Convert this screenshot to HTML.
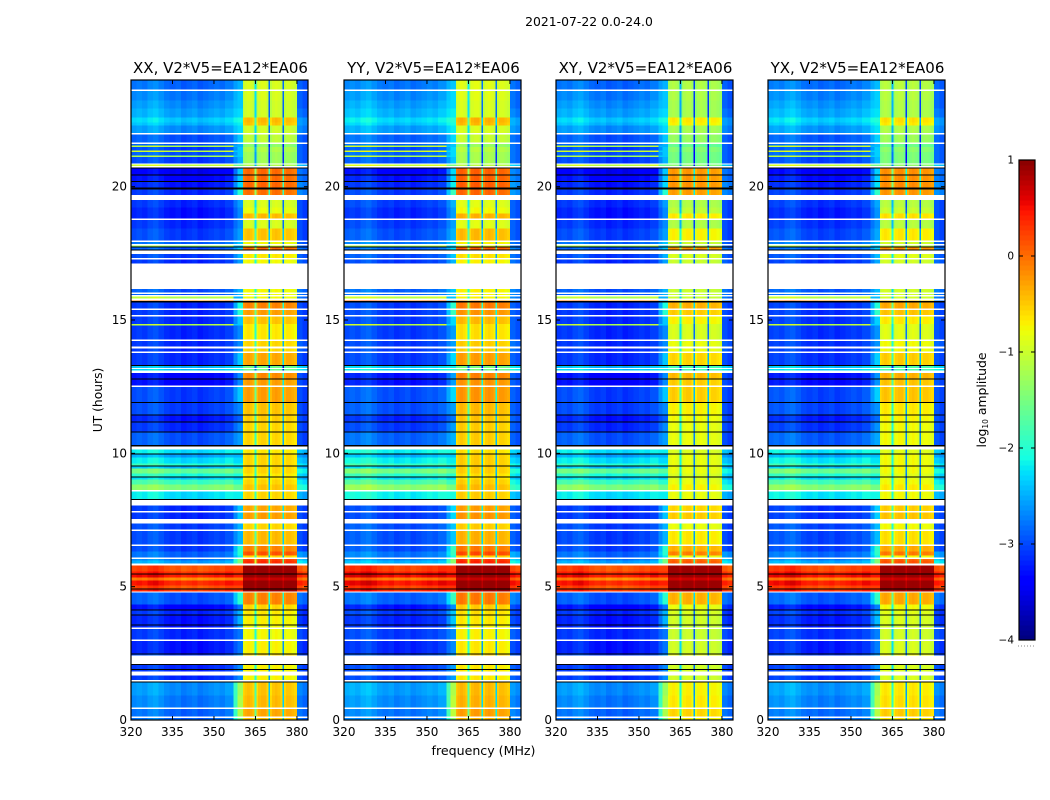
<!DOCTYPE html>
<html lang="en">
<head>
<meta charset="utf-8">
<title>2021-07-22 0.0-24.0</title>
<style>
html,body{margin:0;padding:0;background:#fff;width:1050px;height:800px;overflow:hidden}
svg{display:block}
text{font-family:"DejaVu Sans","Liberation Sans",sans-serif;fill:#000}
</style>
</head>
<body>
<svg id="figure" xmlns="http://www.w3.org/2000/svg" width="1050" height="800" viewBox="0 0 1050 800">
  <rect x="0" y="0" width="1050" height="800" fill="#fff"/>
  <text x="589" y="26" font-size="12.4" text-anchor="middle">2021-07-22 0.0-24.0</text>
  <text transform="translate(102 400) rotate(-90)" font-size="12.3" text-anchor="middle">UT (hours)</text>
  <text x="483.5" y="755" font-size="12.6" text-anchor="middle">frequency (MHz)</text>
  <text transform="translate(986 400) rotate(-90)" font-size="12.4" text-anchor="middle">log<tspan font-size="7.5" dy="2">10</tspan><tspan dy="-2"> amplitude</tspan></text>
  <g id="panels"></g>
  <g id="colorbar"></g>
</svg>
<script>
// Panel categories
const panelTitles = ["XX, V2*V5=EA12*EA06", "YY, V2*V5=EA12*EA06", "XY, V2*V5=EA12*EA06", "YX, V2*V5=EA12*EA06"];
const panelPassTrim = [0, 0.05, -0.25, -0.2];
const panelOffTrim = [0, 0.1, 0, 0.05];

// Tick labels
const freqTicks = [320, 335, 350, 365, 380];
const hourTicks = [0, 5, 10, 15, 20];
const colorTicks = [1, 0, -1, -2, -3, -4];

// Frequency channels, MHz edges
const offChannelEdges = [320,322,324,326,328,330,332,334,336,338,340,342,344,346,348,350,352,354,357];
const shoulderChannelEdges = [357,358.5,360.5];
const passChannelEdges = [360.5,361,362,363,364,364.7,365.3,366,367,368,369,369.7,370.3,371,372,373,374,374.7,375.3,376,377,378,379,380];
const rightChannelEdges = [380,382,384];

// Channel shape, log10 offsets
const offChannelTrim = [-0.12,-0.07,-0.12,-0.02,0.03,-0.07,-0.17,-0.22,-0.17,-0.27,-0.22,-0.17,-0.27,-0.22,-0.17,-0.12,-0.17,-0.07];
const shoulderChannelBlend = [0.5, 1];
const rightChannelTrim = [0, -0.1];
const passChannelTrim = [-0.1,0,0.05,0,-0.1,-1.3,-0.15,0,0.05,0.05,-0.1,-1.9,-0.15,0,0.05,0,-0.1,-1.9,-0.1,0,0,-0.05,-0.1];

// Time rows: hour at the top of each row. A level of null is a flagged (white) row, -9 a blanked (black) row.
const rowStartHours = [
  24.00,23.64,23.59,23.23,22.93,22.59,22.41,22.29,22.01,21.96,
  21.66,21.60,21.54,21.49,21.36,21.30,21.17,21.11,20.87,20.83,
  20.78,20.72,20.68,20.46,20.42,20.21,20.18,19.97,19.89,19.69,
  19.50,19.22,18.99,18.81,18.75,18.43,17.98,17.93,17.85,17.79,
  17.75,17.72,17.64,17.60,17.48,17.33,17.27,17.12,16.16,16.03,
  15.98,15.94,15.89,15.80,15.74,15.71,15.66,15.43,15.37,15.19,
  15.13,14.85,14.79,14.27,14.21,14.00,13.94,13.82,13.76,13.31,
  13.27,13.20,13.16,13.10,13.01,12.81,12.77,12.54,12.49,11.93,
  11.89,11.46,11.42,11.20,11.16,10.82,10.78,10.31,10.26,10.14,
  9.99,9.95,9.84,9.62,9.54,9.50,9.43,9.24,9.13,9.09,
  9.02,8.83,8.62,8.57,8.29,8.25,8.04,7.84,7.78,7.54,
  7.37,7.14,7.09,6.58,6.53,6.32,6.17,6.09,6.04,5.98,
  5.87,5.80,5.57,5.50,5.46,5.35,5.24,5.05,4.93,4.89,
  4.82,4.78,4.33,4.14,4.11,3.96,3.92,3.58,3.54,3.47,
  3.42,3.28,3.02,2.96,2.49,2.46,2.42,2.10,2.06,1.91,
  1.87,1.82,1.67,1.50,1.44,1.41,0.92,0.47,0.41,0.13,
  0.07
];
const offBandLevels = [
  -2.7,null,-2.6,-2.5,-2.4,-2.2,-2.3,-2.5,null,-2.8,
  null,-2.8,-1.0,-2.9,-0.9,-2.8,-1.1,-2.9,null,-0.9,
  null,-9,-3.3,-9,-3.2,-9,-3.1,-9,-3.0,null,
  -3.0,-3.1,-3.1,null,-3.0,-2.9,null,-2.7,null,-1.2,
  -9,-2.8,-9,null,-2.9,null,-3.0,null,-2.8,null,
  -2.8,null,-1.0,null,0.0,-9,-3.0,null,-3.0,null,
  -3.0,-1.0,-3.0,null,-3.0,null,-3.0,null,-3.0,-9,
  -2.3,null,-2.2,null,-3.2,-9,-3.2,null,-2.9,-9,
  -2.9,-9,-3.1,-9,-3.0,-9,-2.8,-9,null,-2.1,
  -9,-2.4,-2.1,-1.8,-9,-2.3,-1.45,-1.9,-9,-2.2,
  -1.7,-1.3,null,-2.1,-9,null,-3.0,null,-3.0,null,
  -2.9,null,-2.9,null,-2.9,-2.7,-2.7,null,-2.6,-2.4,
  null,0.3,0.5,-9,0.6,0.0,0.55,0.3,-9,0.45,
  null,-2.8,-3.2,-9,-3.0,-9,-3.1,-9,-3.1,null,
  -3.0,-3.0,null,-3.1,-9,-2.9,null,-9,-3.0,-9,
  -3.0,null,-3.0,null,-9,-2.5,-2.6,null,-2.7,null,
  -2.7
];
const shoulderLevels = [
  -2.5,null,-2.4,-2.4,-2.3,-2.1,-2.2,-2.3,null,-2.4,
  null,-2.5,-2.5,-2.4,-2.4,-2.4,-2.4,-2.5,null,-1.6,
  null,-9,-2.4,-9,-2.4,-9,-2.3,-9,-2.0,null,
  -2.6,-2.7,-2.7,null,-2.7,-2.6,null,-2.4,null,-2.4,
  -9,-2.4,-9,null,-2.5,null,-2.6,null,-2.5,null,
  -2.5,null,-2.5,null,-2.5,-9,-2.1,null,-2.0,null,
  -2.4,-2.4,-2.7,null,-2.7,null,-2.7,null,-2.4,-9,
  -2.3,null,-2.2,null,-2.7,-9,-2.7,null,-2.4,-9,
  -2.7,-9,-2.9,-9,-2.7,-9,-2.6,-9,null,-2.2,
  -9,-2.5,-2.3,-2.1,-9,-2.4,-1.7,-2.1,-9,-2.4,
  -2.0,-1.6,null,-2.2,-9,null,-2.4,null,-2.4,null,
  -2.5,null,-2.5,null,-2.0,-2.0,-2.2,null,-1.5,-1.5,
  null,0.2,0.3,-9,0.4,-0.1,0.4,0.2,-9,0.3,
  null,-2.0,-2.8,-9,-2.5,-9,-2.5,-9,-2.6,null,
  -2.8,-2.8,null,-2.8,-9,-2.6,null,-9,-2.7,-9,
  -2.7,null,-2.7,null,-9,-1.3,-1.2,null,-1.2,null,
  -1.5
];
const passBandLevels = [
  -0.95,null,-0.95,-1.0,-1.0,-0.45,-0.5,-1.0,null,-1.1,
  null,-1.4,-1.4,-1.2,-1.2,-1.3,-1.3,-1.3,null,-1.2,
  null,-9,-0.02,-9,-0.02,-9,0.0,-9,-0.05,null,
  -0.95,-0.85,-0.45,null,-0.95,-0.5,null,-0.8,null,-0.9,
  -9,0.0,-9,null,-0.7,null,-0.8,null,-0.8,null,
  -0.8,null,-0.8,null,-0.3,-9,-0.15,null,-0.3,null,
  -0.5,-0.7,-0.7,null,-0.6,null,-0.6,null,-0.35,-9,
  -1.6,null,-1.6,null,-0.2,-9,-0.3,null,-0.3,-9,
  -0.5,-9,-0.55,-9,-0.6,-9,-0.6,-9,null,-0.7,
  -9,-0.6,-0.6,-0.6,-9,-0.6,-0.6,-0.7,-9,-0.7,
  -0.6,-0.5,null,-0.6,-9,null,-0.35,null,-0.3,null,
  -0.6,null,-0.45,null,-0.15,0.1,-0.6,null,0.2,0.3,
  null,0.9,0.9,-9,0.9,0.7,0.9,0.9,-9,0.9,
  null,-0.15,-0.6,-9,-0.7,-9,-0.75,-9,-0.8,null,
  -0.8,-0.8,null,-0.75,-9,-0.6,null,-9,-0.75,-9,
  -0.75,null,-0.75,null,-9,-0.5,-0.45,null,-0.35,null,
  -0.5
];
const rightBandLevels = [
  -2.9,null,-2.9,-2.9,-2.8,-2.6,-2.6,-2.7,null,-2.9,
  null,-2.9,-2.9,-2.9,-2.9,-2.9,-2.9,-2.9,null,-2.4,
  null,-9,-2.8,-9,-2.8,-9,-2.7,-9,-2.7,null,
  -3.0,-3.0,-3.0,null,-3.0,-3.0,null,-2.9,null,-2.9,
  -9,-2.8,-9,null,-2.9,null,-2.9,null,-2.8,null,
  -2.8,null,-2.8,null,-2.8,-9,-3.0,null,-3.0,null,
  -3.0,-3.0,-3.0,null,-2.9,null,-2.9,null,-3.0,-9,
  -2.3,null,-2.2,null,-3.0,-9,-3.0,null,-3.0,-9,
  -3.0,-9,-3.0,-9,-3.0,-9,-3.0,-9,null,-2.4,
  -9,-2.6,-2.4,-2.2,-9,-2.5,-2.1,-2.3,-9,-2.5,
  -2.2,-2.0,null,-2.5,-9,null,-3.0,null,-3.0,null,
  -3.0,null,-3.0,null,-3.0,-2.6,-2.6,null,-2.4,-2.2,
  null,0.1,0.3,-9,0.4,0.0,0.4,0.2,-9,0.3,
  null,-2.8,-3.1,-9,-3.1,-9,-3.1,-9,-3.0,null,
  -3.0,-3.0,null,-3.1,-9,-3.0,null,-9,-3.0,-9,
  -3.0,null,-3.0,null,-9,-2.7,-2.8,null,-2.8,null,
  -2.8
];

const SVG_NS = "http://www.w3.org/2000/svg";
const axisTop = 80, axisBottom = 720;
const panelLefts = [131, 344, 556, 768];
const panelWidth = 177;
const barLeft = 1019, barWidth = 16, barTop = 160, barBottom = 640;

function xScale(left, mhz) { return left + (mhz - 320) / 64 * panelWidth; }
function yScale(hour) { return axisBottom - hour / 24 * (axisBottom - axisTop); }
function barScale(level) { return barBottom - (level + 4) / 5 * (barBottom - barTop); }

function jet(level) {
  const t = Math.max(0, Math.min(1, (level + 4) / 5));
  const ramp = (pts) => {
    for (let i = 1; i < pts.length; i++) {
      if (t <= pts[i][0]) {
        const a = pts[i - 1], b = pts[i];
        return a[1] + (b[1] - a[1]) * (t - a[0]) / (b[0] - a[0]);
      }
    }
    return pts[pts.length - 1][1];
  };
  const r = ramp([[0,0],[0.35,0],[0.66,1],[0.89,1],[1,0.5]]);
  const g = ramp([[0,0],[0.125,0],[0.375,1],[0.64,1],[0.91,0],[1,0]]);
  const b = ramp([[0,0.5],[0.11,1],[0.34,1],[0.65,0],[1,0]]);
  return "rgb(" + Math.round(r * 255) + "," + Math.round(g * 255) + "," + Math.round(b * 255) + ")";
}

function shape(tag, attrs, parent) {
  const el = document.createElementNS(SVG_NS, tag);
  for (const k in attrs) el.setAttribute(k, attrs[k]);
  parent.appendChild(el);
  return el;
}

function drawBandCells(group, left, edges, rowTop, rowHeight, levelAt) {
  for (let c = 0; c < edges.length - 1; c++) {
    const x0 = xScale(left, edges[c]);
    const x1 = xScale(left, edges[c + 1]);
    const cell = shape("rect", {
      x: x0.toFixed(2), y: rowTop.toFixed(2),
      width: (x1 - x0).toFixed(2), height: rowHeight.toFixed(2),
      fill: jet(levelAt(c))
    }, group);
    
    
  }
}

function drawPanel(p) {
  const left = panelLefts[p];
  const right = left + panelWidth;
  const root = document.getElementById("panels");

  const panel = shape("g", {}, root);
  
  

  const cells = shape("g", { "shape-rendering": "crispEdges" }, panel);
  
  

  for (let r = 0; r < rowStartHours.length; r++) {
    const off = offBandLevels[r];
    if (off === null) continue;
    const top = yScale(rowStartHours[r]);
    const nextHour = r + 1 < rowStartHours.length ? rowStartHours[r + 1] : 0;
    const height = Math.max(1, yScale(nextHour) - top);
    if (off === -9) {
      const blank = shape("rect", { x: left, y: top.toFixed(2), width: panelWidth, height: height.toFixed(2), fill: "#000" }, cells);
      
      
      continue;
    }
    const pass = passBandLevels[r];
    const gapScale = pass > 0.5 ? 0.08 : 1;
    const shoulderStart = Math.min(off, shoulderLevels[r]);
    drawBandCells(cells, left, offChannelEdges, top, height, (c) => off + offChannelTrim[c] + panelOffTrim[p]);
    drawBandCells(cells, left, shoulderChannelEdges, top, height, (c) => shoulderStart + (shoulderLevels[r] - shoulderStart) * shoulderChannelBlend[c] + panelOffTrim[p]);
    drawBandCells(cells, left, passChannelEdges, top, height, (c) => pass + (passChannelTrim[c] + panelPassTrim[p]) * gapScale);
    drawBandCells(cells, left, rightChannelEdges, top, height, (c) => rightBandLevels[r] + rightChannelTrim[c] + panelOffTrim[p]);
  }

  const frame = shape("rect", { x: left, y: axisTop, width: panelWidth, height: axisBottom - axisTop, fill: "none", stroke: "#000", "stroke-width": 1.2 }, panel);
  
  

  const title = shape("text", { x: left + panelWidth / 2 + 1, y: 73, "font-size": 15, "text-anchor": "middle" }, panel);
  title.textContent = panelTitles[p];
  
  

  freqTicks.forEach((f) => {
    const x = xScale(left, f);
    const tickB = shape("line", { x1: x, x2: x, y1: axisBottom, y2: axisBottom - 4, stroke: "#000" }, panel);
    
    
    const tickT = shape("line", { x1: x, x2: x, y1: axisTop, y2: axisTop + 4, stroke: "#000" }, panel);
    
    
    const label = shape("text", { x: x, y: 736, "font-size": 12, "text-anchor": "middle" }, panel);
    label.textContent = f;
    
    
  });

  hourTicks.forEach((h) => {
    const y = yScale(h);
    const tickL = shape("line", { x1: left, x2: left + 4, y1: y, y2: y, stroke: "#000" }, panel);
    
    
    const tickR = shape("line", { x1: right, x2: right - 4, y1: y, y2: y, stroke: "#000" }, panel);
    
    
    const label = shape("text", { x: left - 4, y: y + 4, "font-size": 12, "text-anchor": "end" }, panel);
    label.textContent = h;
    
    
  });
}

function drawColorbar() {
  const root = document.getElementById("colorbar");
  const steps = shape("g", { "shape-rendering": "crispEdges" }, root);
  
  
  for (let level = -4; level < 1; level += 5 / 96) {
    const y1 = barScale(level);
    const y0 = barScale(level + 5 / 96);
    const step = shape("rect", { x: barLeft, y: y0.toFixed(2), width: barWidth, height: (y1 - y0 + 0.5).toFixed(2), fill: jet(level) }, steps);
    
    
  }
  const frame = shape("rect", { x: barLeft, y: barTop, width: barWidth, height: barBottom - barTop, fill: "none", stroke: "#000", "stroke-width": 1.2 }, root);
  
  

  colorTicks.forEach((v) => {
    const y = barScale(v);
    const t1 = shape("line", { x1: barLeft, x2: barLeft + 4, y1: y, y2: y, stroke: "#000" }, root);
    
    
    const t2 = shape("line", { x1: barLeft + barWidth, x2: barLeft + barWidth - 4, y1: y, y2: y, stroke: "#000" }, root);
    
    
    const label = shape("text", { x: 1014, y: y + 3.5, "font-size": 10.5, "text-anchor": "end" }, root);
    label.textContent = String(v).replace("-", "\u2212");
    
    
  });

  const dots = shape("line", { x1: barLeft - 1, x2: barLeft + barWidth, y1: 646, y2: 646, stroke: "#888", "stroke-width": 1, "stroke-dasharray": "1 2" }, root);
  
  
}

panelTitles.forEach((_, p) => drawPanel(p));
drawColorbar();
</script>
</body>
</html>
